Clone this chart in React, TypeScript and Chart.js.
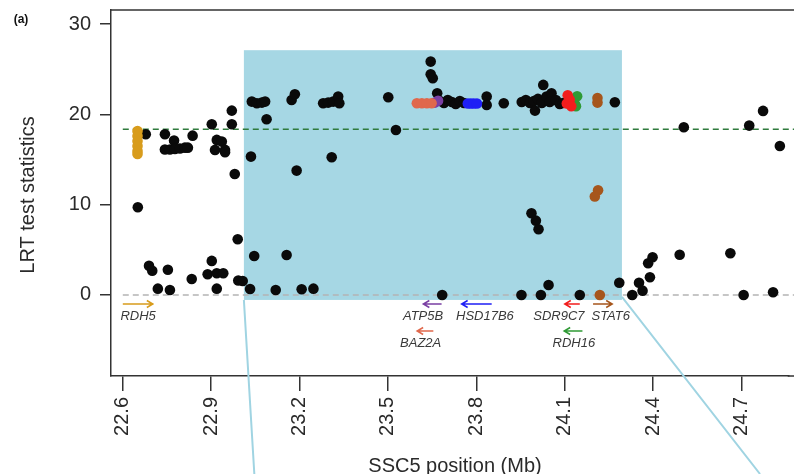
import React, { useEffect, useRef } from "react";
import { Chart, registerables } from "chart.js";
Chart.register(...registerables);

// ---- axes ----
const xTicks = [22.6, 22.9, 23.2, 23.5, 23.8, 24.1, 24.4, 24.7];
const yTicks = [0, 10, 20, 30];
const xRange = [22.56, 24.86];
const yRange = [-8.97, 31.55];
const thresholdLRT = 18.35;

// ---- shaded region (Mb, LRT) ----
const shadeX = [23.011, 24.294];
const shadeY = [-0.55, 27.1];

// ---- black SNPs ----
const blackPos = [
  22.678, 22.651, 22.743, 22.774, 22.743, 22.760, 22.777, 22.794, 22.811, 22.821,
  22.837, 22.902, 22.970, 22.970, 22.919, 22.936, 22.913, 22.947, 22.947, 22.980,
  23.035, 23.038, 22.990, 23.046, 22.689, 22.700, 22.753, 22.719, 22.760, 22.834,
  22.902, 22.888, 22.919, 22.941, 22.919, 22.992, 23.007, 23.032, 23.156, 23.119,
  23.207, 23.247, 23.055, 23.072, 23.083, 23.088, 23.173, 23.184, 23.190, 23.309,
  23.280, 23.297, 23.314, 23.331, 23.335, 23.501, 23.527, 23.645, 23.645, 23.652,
  23.667, 23.676, 23.690, 23.703, 23.717, 23.730, 23.744, 23.758, 23.835, 23.835,
  23.893, 23.954, 23.968, 23.982, 23.995, 24.009, 24.022, 24.027, 24.038, 24.055,
  24.049, 24.070, 24.083, 24.094, 23.999, 24.270, 23.987, 24.002, 24.011, 23.684,
  23.953, 24.019, 24.045, 24.151, 24.285, 24.504, 24.726, 24.773, 24.830, 24.329,
  24.352, 24.364, 24.389, 24.383, 24.398, 24.490, 24.662, 24.707, 24.807,
];
const blackLRT = [
  17.80, 9.71, 17.80, 17.09, 16.11, 16.11, 16.17, 16.22, 16.31, 16.31,
  17.64, 18.90, 20.41, 18.90, 17.17, 16.98, 16.06, 16.06, 15.80, 13.40,
  15.32, 21.41, 6.17, 4.32, 3.24, 2.69, 2.80, 0.70, 0.55, 1.77,
  3.77, 2.29, 2.40, 2.40, 0.70, 1.61, 1.55, 0.66, 4.43, 0.55,
  0.63, 0.70, 21.23, 21.30, 21.41, 19.46, 21.59, 22.23, 13.77, 15.25,
  21.23, 21.30, 21.41, 21.96, 21.23, 21.89, 18.27, 25.84, 24.44, 24.00,
  22.34, 21.48, 21.26, 21.59, 21.37, 21.15, 21.48, 21.26, 21.96, 21.04,
  21.23, 21.37, 21.59, 21.26, 21.48, 21.71, 21.26, 23.26, 21.96, 22.34,
  21.37, 21.59, 21.15, 21.26, 20.41, 21.34, 9.05, 8.23, 7.28, 0.00,
  0.00, 0.00, 1.11, 0.00, 1.36, 18.57, 18.75, 20.38, 16.50, 0.00,
  1.36, 0.48, 1.96, 3.51, 4.17, 4.46, 4.62, 0.00, 0.30,
];

// ---- coloured SNPs (in genes) ----
const rdh5Pos = [22.650, 22.650, 22.650, 22.650, 22.650, 22.650];
const rdh5LRT = [18.16, 17.61, 17.05, 16.50, 15.95, 15.61];
const baz2aPos = [23.598, 23.615, 23.632, 23.648];
const baz2aLRT = [21.23, 21.23, 21.23, 21.23];
const atp5bPos = [23.659, 23.670];
const atp5bLRT = [21.30, 21.50];
const hsdPos = [23.771, 23.781, 23.791, 23.802];
const hsdLRT = [21.20, 21.20, 21.20, 21.20];
const sdrPos = [24.107, 24.110, 24.117, 24.122];
const sdrLRT = [21.20, 22.10, 21.60, 20.90];
const rdh16Pos = [24.128, 24.135, 24.142, 24.138];
const rdh16LRT = [21.60, 21.10, 22.00, 20.90];
const stat6Pos = [24.211, 24.211, 24.213, 24.202, 24.219];
const stat6LRT = [21.80, 21.30, 11.60, 10.90, 0.00];

// ---- gene annotations ----
const geneNames = ["RDH5", "ATP5B", "HSD17B6", "SDR9C7", "STAT6", "BAZ2A", "RDH16"];
const geneStart = [22.600, 23.620, 23.750, 24.100, 24.196, 23.599, 24.098];
const geneEnd = [22.702, 23.682, 23.852, 24.151, 24.261, 23.654, 24.160];
const geneStrand = [1, -1, -1, -1, 1, -1, -1];
const geneRow = [0, 0, 0, 0, 0, 1, 1];
const geneLabelPos = [22.652, 23.619, 23.829, 24.080, 24.256, 23.611, 24.131];
const geneColors = ["#d89c1c", "#7a3fa3", "#1f1ff5", "#f21d1d", "#a6561c", "#e0684c", "#2f9a35"];

const shadeColor = "rgb(166,215,228)";
const FONT = "'Liberation Sans', Arial, Helvetica, sans-serif";

const toPts = (xs: number[], ys: number[]) => xs.map((v, i) => ({ x: v, y: ys[i] }));

const decor = {
  id: "decor",
  beforeDatasetsDraw(chart: any) {
    const { ctx, scales } = chart;
    const x = scales.x, y = scales.y;
    const W = chart.width;
    ctx.save();
    const sx0 = x.getPixelForValue(shadeX[0]);
    const sx1 = x.getPixelForValue(shadeX[1]);
    const sy0 = y.getPixelForValue(shadeY[1]);
    const sy1 = y.getPixelForValue(shadeY[0]);
    ctx.fillStyle = shadeColor;
    ctx.fillRect(sx0, sy0, sx1 - sx0, sy1 - sy0);

    ctx.setLineDash([6, 4]);
    ctx.lineWidth = 1.4;
    const lx = x.getPixelForValue(xTicks[0]);
    ctx.strokeStyle = "#2e7a3c";
    const ty = y.getPixelForValue(thresholdLRT);
    ctx.beginPath();
    ctx.moveTo(lx, ty);
    ctx.lineTo(W, ty);
    ctx.stroke();
    ctx.strokeStyle = "#b4b4b4";
    const zy = y.getPixelForValue(0);
    ctx.beginPath();
    ctx.moveTo(lx, zy);
    ctx.lineTo(W, zy);
    ctx.stroke();
    ctx.restore();
  },
  afterDraw(chart: any) {
    const { ctx, scales, chartArea } = chart;
    const x = scales.x, y = scales.y;
    const H = chart.height;
    const W = chart.width;
    ctx.save();
    // top box line + bottom extension to the edge
    ctx.strokeStyle = "#333";
    ctx.lineWidth = 1.5;
    ctx.beginPath();
    ctx.moveTo(chartArea.left, chartArea.top);
    ctx.lineTo(W, chartArea.top);
    ctx.moveTo(chartArea.right - 1, chartArea.bottom);
    ctx.lineTo(W, chartArea.bottom);
    ctx.stroke();

    // connectors from shaded region
    const sx0 = x.getPixelForValue(shadeX[0]);
    const sx1 = x.getPixelForValue(shadeX[1]);
    const sy1 = y.getPixelForValue(shadeY[0]);
    ctx.strokeStyle = "rgb(160,212,226)";
    ctx.lineWidth = 2;
    ctx.beginPath();
    ctx.moveTo(sx0, sy1);
    ctx.lineTo(sx0 + (H - sy1) * 0.06, H);
    ctx.moveTo(sx1, sy1 - 3);
    ctx.lineTo(sx1 + (H - sy1 + 3) * 0.78, H);
    ctx.stroke();

    // genes
    const zy = y.getPixelForValue(0);
    for (let i = 0; i < geneNames.length; i++) {
      const ay = zy + 9 + geneRow[i] * 27;
      const a = x.getPixelForValue(geneStart[i]);
      const b = x.getPixelForValue(geneEnd[i]);
      const tail = geneStrand[i] > 0 ? a : b;
      const head = geneStrand[i] > 0 ? b : a;
      const d = geneStrand[i] > 0 ? -1 : 1;
      ctx.strokeStyle = geneColors[i];
      ctx.lineWidth = 1.5;
      ctx.beginPath();
      ctx.moveTo(tail, ay);
      ctx.lineTo(head, ay);
      ctx.moveTo(head + d * 6, ay - 3.5);
      ctx.lineTo(head, ay);
      ctx.lineTo(head + d * 6, ay + 3.5);
      ctx.stroke();
      ctx.fillStyle = "#3a3a3a";
      ctx.font = `italic 13px ${FONT}`;
      ctx.textAlign = "center";
      ctx.textBaseline = "middle";
      ctx.fillText(geneNames[i], x.getPixelForValue(geneLabelPos[i]), ay + 12);
    }

    // titles
    ctx.fillStyle = "#2a2a2a";
    ctx.font = `20px ${FONT}`;
    ctx.textAlign = "center";
    ctx.textBaseline = "middle";
    ctx.fillText("SSC5 position (Mb)", 455, 466);
    ctx.save();
    ctx.translate(28, 195);
    ctx.rotate(-Math.PI / 2);
    ctx.fillText("LRT test statistics", 0, 0);
    ctx.restore();
    ctx.font = `bold 12px ${FONT}`;
    ctx.fillStyle = "#111";
    ctx.fillText("(a)", 21, 20);
    ctx.restore();
  },
};

export default function App() {
  const ref = useRef<HTMLCanvasElement>(null);
  useEffect(() => {
    const canvas = ref.current!;
    const mk = (pos: number[], lrt: number[], color: string, order: number) => ({
      data: toPts(pos, lrt),
      backgroundColor: color,
      borderWidth: 0,
      pointRadius: 5.3,
      pointHoverRadius: 5.3,
      order,
    });
    const chart = new Chart(canvas, {
      type: "scatter",
      data: {
        datasets: [
          mk(rdh5Pos, rdh5LRT, geneColors[0], 0),
          mk(baz2aPos, baz2aLRT, geneColors[5], 0),
          mk(atp5bPos, atp5bLRT, geneColors[1], 0),
          mk(hsdPos, hsdLRT, geneColors[2], 0),
          mk(sdrPos, sdrLRT, geneColors[3], 0),
          mk(rdh16Pos, rdh16LRT, geneColors[6], 0),
          mk(stat6Pos, stat6LRT, geneColors[4], 0),
          mk(blackPos, blackLRT, "#0a0a0a", 1),
        ] as any,
      },
      options: {
        animation: false,
        responsive: false,
        devicePixelRatio: 1,
        layout: { padding: { top: 10, right: 0, left: 0, bottom: 0 } },
        plugins: { legend: { display: false }, tooltip: { enabled: false } },
        scales: {
          x: {
            type: "linear",
            min: xRange[0],
            max: xRange[1],
            afterBuildTicks: (s: any) => {
              s.ticks = xTicks.map((v) => ({ value: v }));
            },
            afterFit: (s: any) => {
              s.height = 98;
              s.paddingLeft = 0;
              s.paddingRight = 0;
            },
            ticks: {
              minRotation: 90,
              maxRotation: 90,
              autoSkip: false,
              padding: 6,
              color: "#2a2a2a",
              font: { size: 20, family: FONT },
              callback: (v: any) => Number(v).toFixed(1),
            },
            grid: { drawOnChartArea: false, drawTicks: true, tickLength: 15, color: "#333", lineWidth: 1.5 },
            border: { display: true, color: "#333", width: 1.5 },
          },
          y: {
            type: "linear",
            min: yRange[0],
            max: yRange[1],
            afterBuildTicks: (s: any) => {
              s.ticks = yTicks.map((v) => ({ value: v }));
            },
            afterFit: (s: any) => {
              s.width = 111;
              s.paddingTop = 0;
              s.paddingBottom = 0;
            },
            ticks: {
              autoSkip: false,
              padding: 9,
              color: "#2a2a2a",
              font: { size: 20, family: FONT },
            },
            grid: { drawOnChartArea: false, drawTicks: true, tickLength: 11, color: "#333", lineWidth: 1.5 },
            border: { display: true, color: "#333", width: 1.5 },
          },
        },
      },
      plugins: [decor],
    } as any);
    return () => chart.destroy();
  }, []);
  return (
    <div style={{ position: "fixed", left: 0, top: 0, width: 794, height: 474, background: "#fff", overflow: "hidden" }}>
      <canvas ref={ref} width={794} height={474} style={{ display: "block", width: 794, height: 474 }} />
    </div>
  );
}
